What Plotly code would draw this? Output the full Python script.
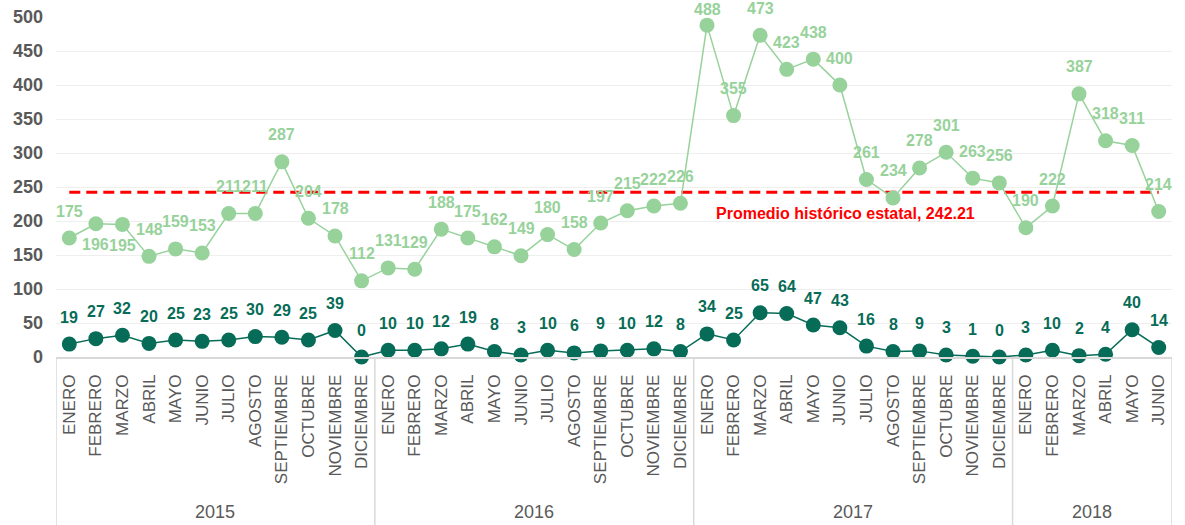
import plotly.graph_objects as go

# ---------------- data ----------------
years = ["2015", "2016", "2017", "2018"]
months_full = ["ENERO", "FEBRERO", "MARZO", "ABRIL", "MAYO", "JUNIO", "JULIO",
               "AGOSTO", "SEPTIEMBRE", "OCTUBRE", "NOVIEMBRE", "DICIEMBRE"]
months_per_year = [12, 12, 12, 6]

serie_clara = [175, 196, 195, 148, 159, 153, 211, 211, 287, 204, 178, 112,
               131, 129, 188, 175, 162, 149, 180, 158, 197, 215, 222, 226,
               488, 355, 473, 423, 438, 400, 261, 234, 278, 301, 263, 256,
               190, 222, 387, 318, 311, 214]
serie_oscura = [19, 27, 32, 20, 25, 23, 25, 30, 29, 25, 39, 0,
                10, 10, 12, 19, 8, 3, 10, 6, 9, 10, 12, 8,
                34, 25, 65, 64, 47, 43, 16, 8, 9, 3, 1, 0,
                3, 10, 2, 4, 40, 14]
promedio = 242.21
promedio_texto = "Promedio histórico estatal, 242.21"

# ---------------- derived ----------------
month_labels = []
for n in months_per_year:
    month_labels += months_full[:n]
xs = list(range(len(month_labels)))

# label offsets in pixels (style): above, two below, one squeezed at top
clara_shift = [27] * len(serie_clara)
clara_shift[1] = -21
clara_shift[2] = -21
clara_shift[24] = 16

LIGHT = "#97D29B"
DARK = "#076C57"
GRAY = "#595959"
FONT = "Arial, Liberation Sans, sans-serif"

fig = go.Figure()

fig.add_trace(go.Scatter(
    x=xs, y=[promedio] * len(xs), mode="lines",
    line=dict(color="#FF0000", width=3, dash="11px,6px"),
    hoverinfo="skip", showlegend=False))

fig.add_trace(go.Scatter(
    x=xs, y=serie_clara, mode="lines+markers",
    line=dict(color=LIGHT, width=1.5),
    marker=dict(color=LIGHT, size=15),
    showlegend=False, cliponaxis=False))

fig.add_trace(go.Scatter(
    x=xs, y=serie_oscura, mode="lines+markers",
    line=dict(color=DARK, width=1.5),
    marker=dict(color=DARK, size=15),
    showlegend=False, cliponaxis=False))

annotations = []
for x, v, s in zip(xs, serie_clara, clara_shift):
    annotations.append(dict(
        x=x, y=v, xref="x", yref="y", text=str(v), showarrow=False,
        yshift=s, yanchor="middle",
        font=dict(family=FONT, size=16, color=LIGHT, weight="bold")))
for x, v in zip(xs, serie_oscura):
    annotations.append(dict(
        x=x, y=v, xref="x", yref="y", text=str(v), showarrow=False,
        yshift=27, yanchor="middle",
        font=dict(family=FONT, size=16, color=DARK, weight="bold")))

annotations.append(dict(
    x=29.2, y=promedio, xref="x", yref="y", text=promedio_texto,
    showarrow=False, yshift=-21, yanchor="middle",
    font=dict(family=FONT, size=16, color="#FF0000", weight="bold")))

# year group labels and dividers
shapes = []
start = 0
bounds = [-0.5]
for yr, n in zip(years, months_per_year):
    center = start + (n - 1) / 2
    annotations.append(dict(
        x=center, y=0, xref="x", yref="paper", text=yr, showarrow=False,
        yshift=-155, yanchor="middle",
        font=dict(family=FONT, size=18, color=GRAY)))
    start += n
    bounds.append(start - 0.5)
for b in bounds:
    shapes.append(dict(type="line", xref="x", yref="paper", x0=b, x1=b,
                       y0=0, y1=-0.6, line=dict(color="#D9D9D9", width=1.5)))

fig.update_layout(
    width=1185, height=525,
    margin=dict(l=56, r=13, t=17, b=168, autoexpand=False),
    paper_bgcolor="white", plot_bgcolor="white",
    font=dict(family=FONT, color=GRAY),
    annotations=annotations, shapes=shapes,
    xaxis=dict(
        range=[-0.5, len(xs) - 0.5], automargin=False,
        tickmode="array", tickvals=xs, ticktext=month_labels,
        tickangle=-90, tickfont=dict(family=FONT, size=17, color=GRAY),
        showgrid=False, zeroline=False,
        showline=True, linecolor="#D9D9D9", linewidth=1.5,
        ticks="", ticklabelstandoff=9),
    yaxis=dict(
        range=[0, 500], dtick=50, automargin=False,
        tickfont=dict(family=FONT, size=18, color=GRAY, weight="bold"),
        showgrid=True, gridcolor="#EEEEEE", gridwidth=1,
        zeroline=False, showline=False, ticks="",
        ticklabelstandoff=12, ticklabeloverflow="allow"),
)

fig.write_html("out.html", config={"displayModeBar": False},
               post_script="document.body.style.margin='0';")
